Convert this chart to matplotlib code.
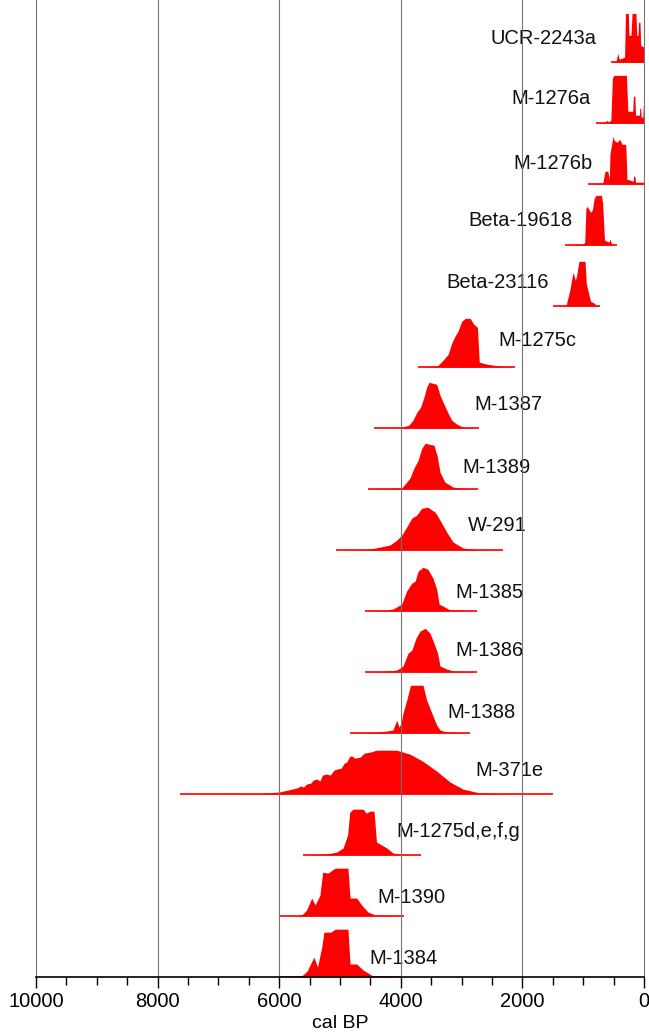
import matplotlib.pyplot as plt
import numpy as np

plt.rcParams['font.family'] = ['Liberation Sans', 'DejaVu Sans']

# Sample names, top to bottom
samples = ['UCR-2243a', 'M-1276a', 'M-1276b', 'Beta-19618', 'Beta-23116',
           'M-1275c', 'M-1387', 'M-1389', 'W-291', 'M-1385', 'M-1386',
           'M-1388', 'M-371e', 'M-1275d,e,f,g', 'M-1390', 'M-1384']

# Calibrated ages (cal BP) and relative probability
cal_bp = [
    [543, 460, 430, 410, 320, 305, 280, 258, 247, 214, 197, 132, 120, 99, 90, 66, 54, 0],
    [794, 640, 613, 590, 545, 520, 500, 290, 265, 185, 175, 150, 140, 75, 70, 55, 45, 20, 10, 0],
    [921, 680, 640, 595, 570, 560, 510, 490, 445, 400, 360, 300, 280, 180, 170, 150, 140, 0],
    [1300, 1000, 975, 955, 935, 880, 850, 820, 790, 700, 680, 650, 580, 560, 530, 444],
    [1497, 1280, 1265, 1220, 1180, 1165, 1130, 1110, 1070, 970, 950, 900, 880, 820, 790, 724],
    [3717, 3400, 3320, 3220, 3170, 3110, 3060, 3000, 2940, 2860, 2800, 2740, 2710, 2590, 2370, 2122],
    [4441, 4000, 3865, 3800, 3735, 3675, 3620, 3575, 3535, 3410, 3355, 3305, 3245, 3165, 3080, 2980, 2714],
    [4539, 3985, 3850, 3785, 3715, 3655, 3600, 3455, 3405, 3355, 3275, 3140, 2900, 2730],
    [5066, 4700, 4505, 4180, 4065, 3985, 3905, 3820, 3740, 3655, 3555, 3435, 3355, 3245, 3140, 2975, 2750, 2319],
    [4589, 4300, 4130, 3985, 3905, 3820, 3765, 3715, 3635, 3555, 3470, 3410, 3370, 3275, 3190, 2752],
    [4589, 4300, 4065, 3965, 3880, 3820, 3750, 3685, 3600, 3520, 3455, 3395, 3355, 3245, 3140, 2752],
    [4835, 4500, 4230, 4130, 4067, 4030, 3995, 3964, 3903, 3840, 3635, 3575, 3490, 3410, 3355, 3245, 2862],
    [7631, 6800, 6320, 6000, 5710, 5650, 5600, 5550, 5480, 5440, 5380, 5330, 5290, 5220, 5160, 5100,
     5050, 4980, 4930, 4890, 4840, 4800, 4760, 4670, 4600, 4510, 4400, 4070, 3850, 3640, 3410, 3190,
     2980, 2700, 2320, 1497],
    [5608, 5400, 5220, 5050, 4950, 4875, 4840, 4785, 4620, 4570, 4510, 4440, 4400, 4315, 4230, 4130, 4015, 3668],
    [6003, 5700, 5610, 5550, 5465, 5410, 5330, 5285, 5200, 5080, 4870, 4835, 4725, 4645, 4540, 4425, 3947],
    [6003, 5700, 5610, 5540, 5430, 5370, 5300, 5265, 5150, 5080, 4870, 4835, 4725, 4620, 4460, 3997],
]
rel_prob = [
    [0, 1, 9, 3, 5, 49, 49, 49, 27, 27, 49, 49, 27, 27, 40, 40, 17, 15],
    [0, 1, 3, 1, 3, 45, 48, 48, 12, 12, 27, 27, 8, 8, 15, 15, 6, 6, 18, 18],
    [0, 1, 13, 13, 5, 30, 48, 44, 42, 45, 40, 40, 5, 3, 8, 8, 2, 2],
    [0, 1, 3, 37, 39, 33, 35, 47, 50, 50, 42, 5, 3, 6, 1, 0],
    [0, 1, 5, 16, 30, 34, 26, 30, 45, 45, 23, 10, 5, 3, 1, 0],
    [0, 1, 6, 13, 23, 31, 36, 46, 49, 49, 43, 40, 5, 3, 1, 0],
    [0, 0.5, 3, 8, 16, 21, 31, 41, 46, 44, 33, 26, 18, 8, 4, 1, 0],
    [0, 1, 11, 21, 29, 41, 46, 44, 34, 17, 7, 2, 0.5, 0],
    [0, 0.3, 1, 5, 10, 15, 23, 32, 35, 42, 43, 38, 30, 18, 8, 2, 0.5, 0],
    [0, 0.5, 2, 7, 20, 28, 30, 40, 44, 42, 33, 22, 7, 4, 1, 0],
    [0, 0.5, 2, 6, 19, 22, 34, 41, 44, 39, 29, 19, 6, 3, 1, 0],
    [0, 0.5, 2, 3, 13, 6, 10, 20, 33, 48, 48, 33, 20, 8, 3, 1, 0],
    [0, 0.2, 0.5, 2, 6, 8, 7, 10, 11, 14, 15, 13, 19, 20, 19, 24,
     25, 26, 31, 32, 38, 38, 36, 37, 41, 42, 44, 44, 40, 33, 23, 12,
     5, 1, 0.3, 0],
    [0, 0.3, 1, 3, 7, 20, 43, 46, 46, 42, 44, 44, 13, 10, 7, 2, 0.5, 0],
    [0, 0.3, 2, 6, 18, 11, 21, 44, 43, 48, 48, 18, 18, 11, 4, 1, 0],
    [0, 0.3, 2, 6, 20, 10, 30, 45, 45, 48, 48, 13, 13, 7, 1, 0],
]

# label anchor (left edge, cal BP) and vertical offset from baseline
label_x = [2533, 2188, 2155, 2895, 3257, 2401, 2796, 2993, 2895, 3108, 3108,
           3240, 2780, 4079, 4391, 4523]
label_dy = [0.39, 0.41, 0.34, 0.41, 0.39, 0.44, 0.38, 0.36, 0.41, 0.31, 0.36,
            0.34, 0.38, 0.38, 0.30, 0.31]

n = len(samples)
scale = 0.8 / 49.0

fig = plt.figure(figsize=(6.49, 10.36), dpi=100)
ax = fig.add_axes([0.0555, 0.057, 0.9368, 0.943])

for i, name in enumerate(samples):
    base = n - 1 - i
    x = np.array(cal_bp[i], dtype=float)
    y = base + np.array(rel_prob[i], dtype=float) * scale
    ax.fill_between(x, base, y, color='#ff0000', linewidth=0, zorder=2)
    ax.plot([x.min(), x.max()], [base, base], color='#ff0000', lw=1.2, zorder=3,
            solid_capstyle='butt')
    ax.text(label_x[i], base + label_dy[i], name, fontsize=14.5, ha='left',
            va='center', color='#111111', zorder=4)

for g in range(0, 10001, 2000):
    ax.axvline(g, color='0.45', lw=0.8, zorder=5, clip_on=False)

ax.set_xlim(10000, 0)
ax.set_ylim(0, 16.02)
ax.set_xticks(range(0, 10001, 2000))
ax.set_xticks(range(0, 10001, 500), minor=True)
ax.set_yticks([])
ax.tick_params(axis='x', which='major', length=8, width=1, labelsize=14.5, pad=3)
ax.tick_params(axis='x', which='minor', length=5.5, width=1)
for s in ['top', 'left', 'right']:
    ax.spines[s].set_visible(False)
ax.spines['bottom'].set_linewidth(1.2)
ax.spines['bottom'].set_zorder(6)
ax.set_xlabel('cal BP', fontsize=14, labelpad=3)

fig.savefig('out.png', dpi=100)
